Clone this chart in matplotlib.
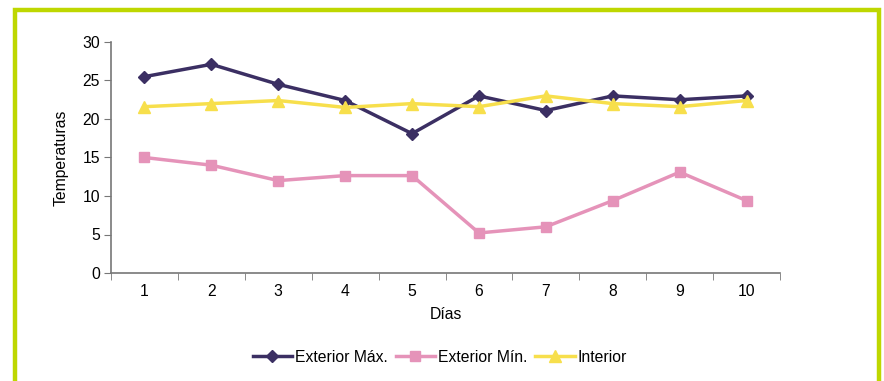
import matplotlib.pyplot as plt
from matplotlib.patches import Rectangle
from matplotlib.ticker import FixedLocator, NullFormatter

plt.rcParams['font.family'] = ['Liberation Sans', 'DejaVu Sans']

# datos
dias = [1, 2, 3, 4, 5, 6, 7, 8, 9, 10]
ext_max = [25.5, 27.1, 24.5, 22.4, 18.1, 23.0, 21.1, 23.0, 22.5, 23.0]
ext_min = [15.0, 14.0, 12.0, 12.65, 12.65, 5.2, 6.0, 9.4, 13.1, 9.4]
interior = [21.6, 22.0, 22.4, 21.5, 22.0, 21.6, 23.0, 22.0, 21.6, 22.4]

fs = 11.3

fig = plt.figure(figsize=(8.84, 3.81), dpi=100)
ax = fig.add_axes([111 / 884, 1 - 273 / 381, (780 - 111) / 884, (273 - 42) / 381])

# marco verde
fig.patches.append(Rectangle((15 / 884, -0.05), (879 - 15) / 884, 1.05 - 10 / 381,
                             transform=fig.transFigure, fill=False,
                             edgecolor='#BED700', linewidth=3.2, zorder=0))

ax.plot(dias, ext_max, color='#3B2F63', lw=2.5, marker='D', ms=6.5, label='Exterior Máx.')
ax.plot(dias, ext_min, color='#E593B9', lw=2.5, marker='s', ms=7, label='Exterior Mín.')
ax.plot(dias, interior, color='#F7DF4C', lw=2.5, marker='^', ms=8.5, label='Interior')

ax.set_xlim(0.5, 10.5)
ax.set_ylim(0, 30)
ax.set_yticks(range(0, 31, 5))
ax.set_xticks(dias)
ax.tick_params(axis='x', which='major', length=0, pad=8)
ax.xaxis.set_minor_locator(FixedLocator([i + 0.5 for i in range(0, 11)]))
ax.xaxis.set_minor_formatter(NullFormatter())
ax.tick_params(axis='x', which='minor', length=5, color='#777777', direction='out')
ax.tick_params(axis='y', length=5, color='#777777', direction='out', pad=3)
ax.tick_params(labelsize=fs)

for s in ['top', 'right']:
    ax.spines[s].set_visible(False)
for s in ['left', 'bottom']:
    ax.spines[s].set_color('#777777')
    ax.spines[s].set_linewidth(1.2)

ax.set_xlabel('Días', fontsize=fs, labelpad=6)
ax.set_ylabel('Temperaturas', fontsize=fs, labelpad=10)

ax.legend(loc='center', bbox_to_anchor=(440 / 884, 1 - 357 / 381), bbox_transform=fig.transFigure,
          ncol=3, frameon=False, fontsize=fs, handlelength=2.5, columnspacing=0.5, handletextpad=0.2)

fig.savefig('out.png', dpi=100)
